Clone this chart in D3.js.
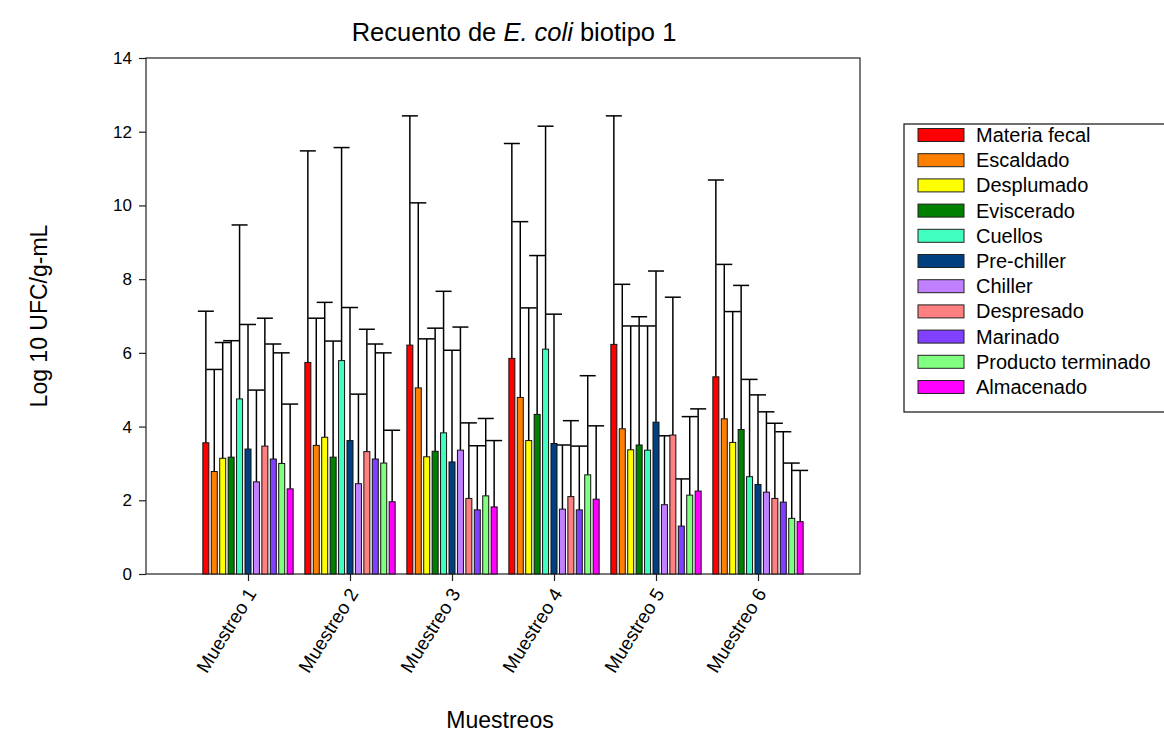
<!DOCTYPE html>
<html>
<head>
<meta charset="utf-8">
<script src="https://cdn.jsdelivr.net/npm/d3@7"></script>
<style>
  body { margin: 0; background: #fff; }
  text { font-family: "Liberation Sans", Arial, sans-serif; }
</style>
</head>
<body>
<div id="chart"></div>
<script>
const width = 1164;
const height = 734;

const samples = ["Muestreo 1", "Muestreo 2", "Muestreo 3", "Muestreo 4", "Muestreo 5", "Muestreo 6"];
const stages = ["Materia fecal", "Escaldado", "Desplumado", "Eviscerado", "Cuellos", "Pre-chiller",
  "Chiller", "Despresado", "Marinado", "Producto terminado", "Almacenado"];
const colors = ["#ff0000", "#ff8000", "#ffff00", "#008000", "#40ffc0", "#004080",
  "#c080ff", "#ff8080", "#8040ff", "#80ff80", "#ff00ff"];

// mean log10 count per stage, one value per sample
const means = [
  [3.56, 5.74, 6.21, 5.85, 6.23, 5.35],
  [2.78, 3.49, 5.05, 4.79, 3.94, 4.21],
  [3.14, 3.71, 3.18, 3.62, 3.37, 3.57],
  [3.17, 3.17, 3.33, 4.33, 3.50, 3.92],
  [4.75, 5.79, 3.83, 6.10, 3.36, 2.64],
  [3.39, 3.62, 3.04, 3.54, 4.12, 2.43],
  [2.50, 2.45, 3.36, 1.76, 1.88, 2.22],
  [3.47, 3.32, 2.05, 2.10, 3.77, 2.05],
  [3.12, 3.12, 1.74, 1.74, 1.30, 1.95],
  [3.00, 3.01, 2.12, 2.69, 2.14, 1.51],
  [2.31, 1.96, 1.82, 2.03, 2.25, 1.42]
];
// top of the error bar (mean + sd)
const uppers = [
  [7.13, 11.48, 12.43, 11.68, 12.43, 10.69],
  [5.55, 6.94, 10.07, 9.56, 7.86, 8.40],
  [6.28, 7.37, 6.38, 7.22, 6.73, 7.12],
  [6.33, 6.32, 6.67, 8.64, 6.98, 7.83],
  [9.47, 11.57, 7.67, 12.15, 6.73, 5.28],
  [6.77, 7.23, 6.07, 7.05, 8.22, 4.86],
  [4.99, 4.88, 6.70, 3.50, 3.75, 4.40],
  [6.94, 6.64, 4.10, 4.16, 7.51, 4.09],
  [6.24, 6.24, 3.48, 3.47, 2.58, 3.86],
  [6.00, 6.00, 4.22, 5.38, 4.27, 3.01],
  [4.61, 3.90, 3.62, 4.02, 4.48, 2.81]
];
const yTicks = [0, 2, 4, 6, 8, 10, 12, 14];

const plotLeft = 146, plotRight = 860, plotTop = 58, plotBottom = 574;

const svg = d3.select("#chart")
  .append("svg")
  .attr("width", width)
  .attr("height", height);

const xScale = d3.scaleLinear()
  .domain([0, samples.length + 1])
  .range([plotLeft, plotRight]);

const yScale = d3.scaleLinear()
  .domain([0, 14])
  .range([plotBottom, plotTop]);

const pitch = 8.43;
const barW = 6;
const capW = 16;

// flatten into one row per bar
let rows = [];
stages.forEach((s, j) => {
  samples.forEach((m, i) => {
    rows.push({ j: j, i: i, mean: means[j][i], upper: uppers[j][i] });
  });
});
const cx = d => xScale(d.i + 1) + (d.j - (stages.length - 1) / 2) * pitch;

/* frame */
svg.append("rect")
  .attr("x", plotLeft)
  .attr("y", plotTop)
  .attr("width", plotRight - plotLeft)
  .attr("height", plotBottom - plotTop)
  .attr("fill", "none")
  .attr("stroke", "#222")
  .attr("stroke-width", 1.2);

/* error bars */
svg.selectAll("line.err")
  .data(rows)
  .enter()
  .append("line")
  .attr("class", "err")
  .attr("x1", cx)
  .attr("x2", cx)
  .attr("y1", d => yScale(d.mean))
  .attr("y2", d => yScale(d.upper))
  .attr("stroke", "#000")
  .attr("stroke-width", 1.5);

svg.selectAll("line.cap")
  .data(rows)
  .enter()
  .append("line")
  .attr("class", "cap")
  .attr("x1", d => cx(d) - capW / 2)
  .attr("x2", d => cx(d) + capW / 2)
  .attr("y1", d => yScale(d.upper))
  .attr("y2", d => yScale(d.upper))
  .attr("stroke", "#000")
  .attr("stroke-width", 1.5);

/* bars */
svg.selectAll("rect.bar")
  .data(rows)
  .enter()
  .append("rect")
  .attr("class", "bar")
  .attr("x", d => cx(d) - barW / 2)
  .attr("y", d => yScale(d.mean))
  .attr("width", barW)
  .attr("height", d => yScale(0) - yScale(d.mean))
  .attr("fill", d => colors[d.j])
  .attr("stroke", "#111")
  .attr("stroke-width", 1);

/* axes */
const yAxis = d3.axisLeft(yScale)
  .tickValues(yTicks)
  .tickSize(7)
  .tickPadding(7);

svg.append("g")
  .attr("transform", "translate(" + plotLeft + ",0)")
  .call(yAxis)
  .call(g => g.select(".domain").remove())
  .call(g => g.selectAll("line").attr("stroke", "#222").attr("stroke-width", 1.2))
  .call(g => g.selectAll("text").attr("font-size", 17).attr("fill", "#000")
    .attr("font-family", "Liberation Sans, Arial, sans-serif"));

const xAxis = d3.axisBottom(xScale)
  .tickValues(samples.map((s, i) => i + 1))
  .tickFormat((d, i) => samples[i])
  .tickSize(7);

svg.append("g")
  .attr("transform", "translate(0," + plotBottom + ")")
  .call(xAxis)
  .call(g => g.select(".domain").remove())
  .call(g => g.selectAll("line").attr("stroke", "#222").attr("stroke-width", 1.2))
  .call(g => g.selectAll("text")
    .attr("font-size", 19)
    .attr("fill", "#000")
    .attr("font-family", "Liberation Sans, Arial, sans-serif")
    .attr("text-anchor", "end")
    .attr("dy", "0.35em")
    .attr("transform", "translate(3,16) rotate(-58)")
    .attr("y", 0)
    .attr("x", 0));

/* titles */
const title = svg.append("text")
  .attr("x", 514)
  .attr("y", 41)
  .attr("text-anchor", "middle")
  .attr("font-size", 25.5);
title.append("tspan").text("Recuento de ");
title.append("tspan").attr("font-style", "italic").text("E. coli");
title.append("tspan").text(" biotipo 1");

svg.append("text")
  .attr("x", 500)
  .attr("y", 728)
  .attr("text-anchor", "middle")
  .attr("font-size", 23)
  .text("Muestreos");

svg.append("text")
  .attr("transform", "translate(47,316) rotate(-90)")
  .attr("text-anchor", "middle")
  .attr("font-size", 23)
  .text("Log 10 UFC/g-mL");

/* legend */
const legend = svg.append("g");
legend.append("rect")
  .attr("x", 904)
  .attr("y", 124)
  .attr("width", 300)
  .attr("height", 288)
  .attr("fill", "#fff")
  .attr("stroke", "#111")
  .attr("stroke-width", 1.2);

const items = legend.selectAll("g.item")
  .data(stages)
  .enter()
  .append("g")
  .attr("class", "item")
  .attr("transform", (d, i) => "translate(918," + (135 + i * 25.2) + ")");

items.append("rect")
  .attr("x", 0)
  .attr("y", -6.5)
  .attr("width", 46)
  .attr("height", 13)
  .attr("fill", (d, i) => colors[i])
  .attr("stroke", "#222")
  .attr("stroke-width", 1);

items.append("text")
  .attr("x", 58)
  .attr("y", 0)
  .attr("dy", "0.35em")
  .attr("font-size", 20)
  .text(d => d);
</script>
</body>
</html>
